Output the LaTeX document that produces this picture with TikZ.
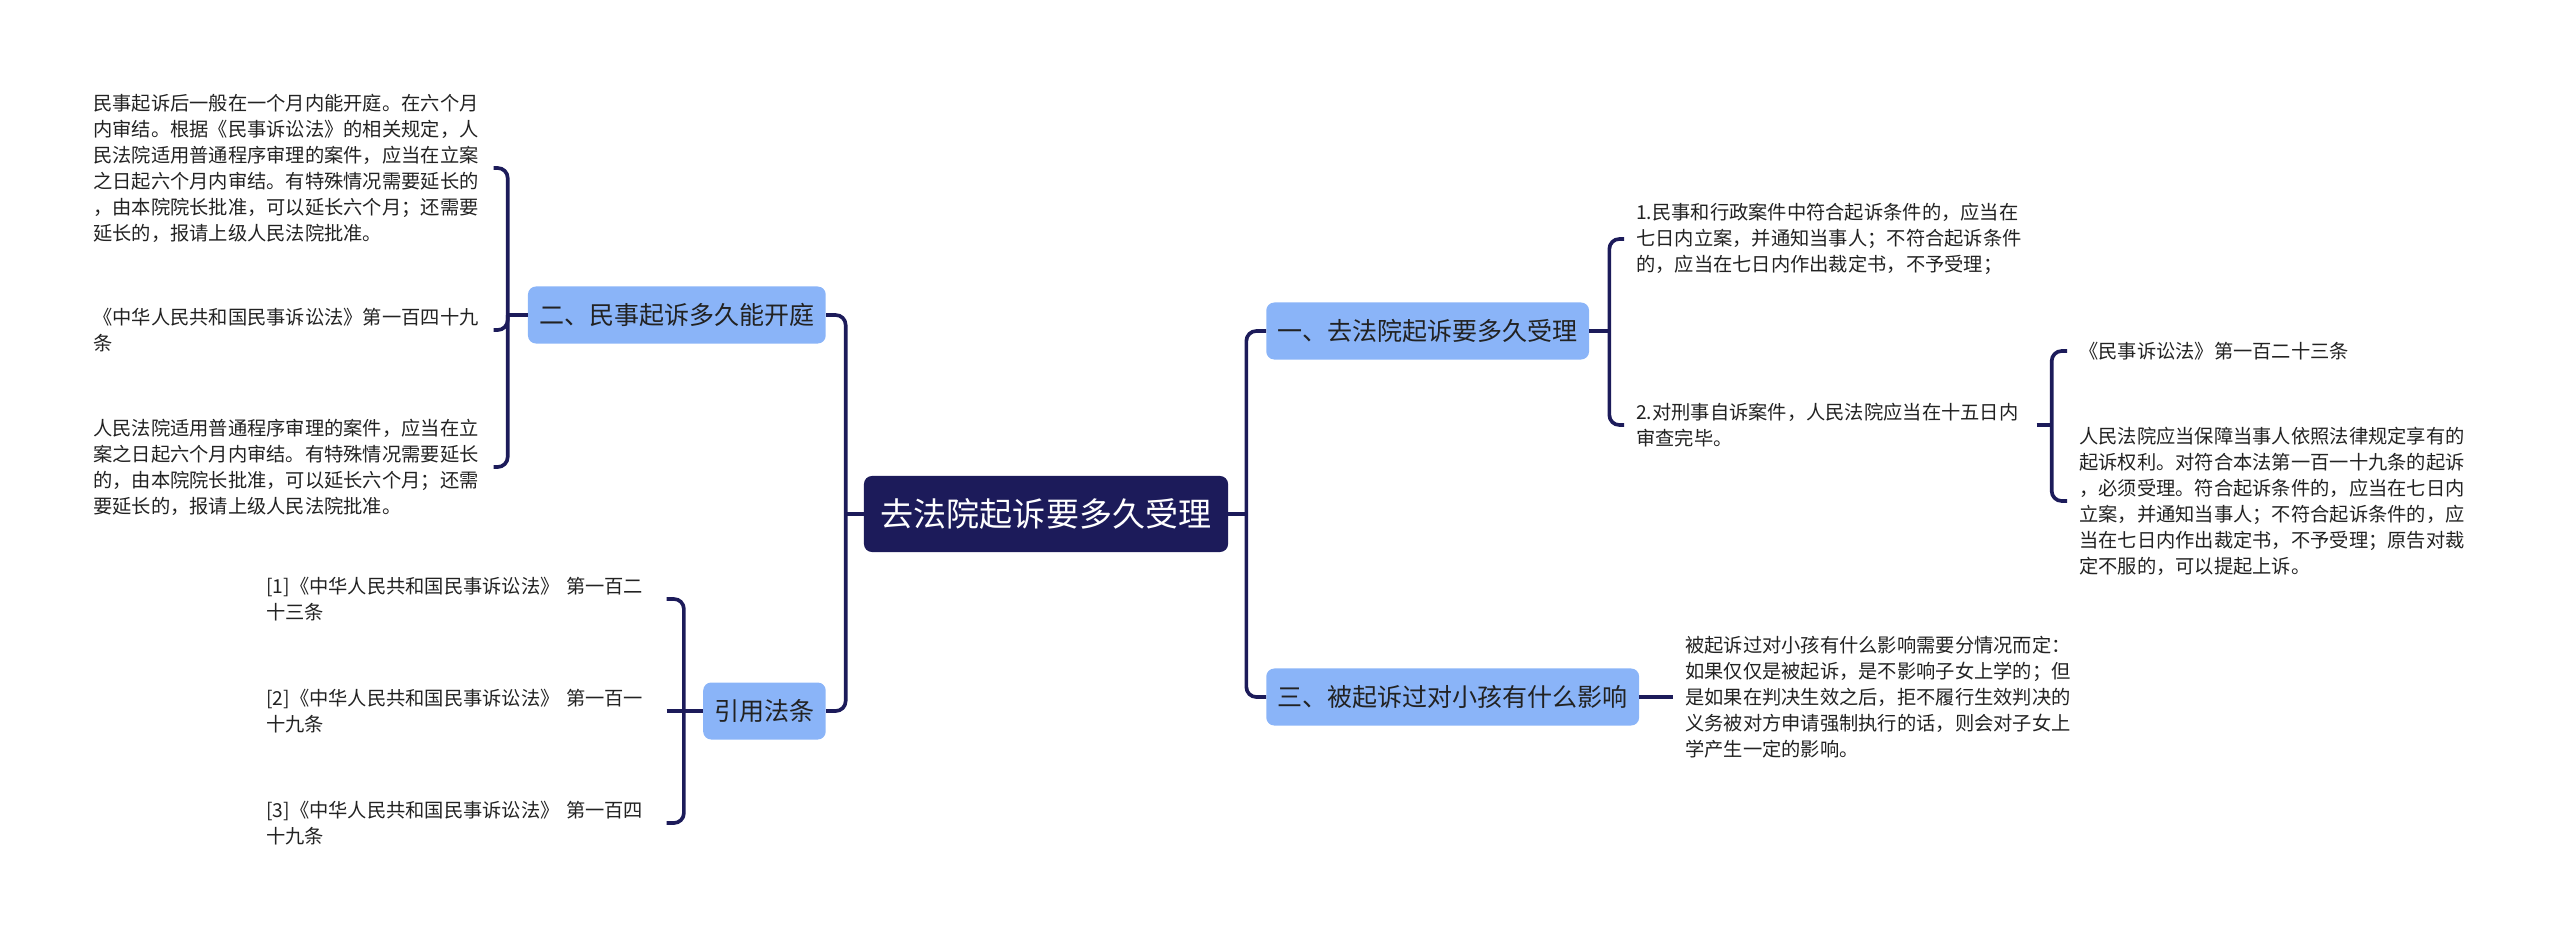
\documentclass[tikz,border=0pt]{standalone}
\usepackage{fontspec}
\setmainfont{Noto Sans CJK SC}
\usepackage{tikz}
\usetikzlibrary{positioning}
\definecolor{navy}{HTML}{1C1B5A}
\definecolor{sky}{HTML}{8AB4F8}
\definecolor{ink}{HTML}{222222}
\tikzset{rootbox/.style={fill=navy,text=white,rounded corners=0.2cm,minimum width=9.1cm,minimum height=1.9cm,font=\fontsize{23.5pt}{28pt}\selectfont},
  topic/.style={fill=sky,text=ink,rounded corners=0.2cm,minimum height=1.425cm,inner xsep=0.28cm,font=\fontsize{17.8pt}{21pt}\selectfont},
  leaf/.style={text=ink,anchor=west,align=left,text width=9.7cm,inner xsep=0.3cm,inner ysep=0pt,font=\fontsize{13.7pt}{18.5pt}\selectfont},
  link/.style={draw=navy,line width=2.6pt,rounded corners=0.25cm}}

\begin{document}
\begin{tikzpicture}[x=0.025cm,y=-0.025cm,line join=round]
\useasboundingbox (0,0) rectangle (2560,940);
% --- centre and the four topics
\node[rootbox] (root) at (1046,514) {去法院起诉要多久受理};
\node[topic,anchor=west] (b1) at (1266,331) {一、去法院起诉要多久受理};
\node[topic,anchor=east] (b2) at (826,315) {二、民事起诉多久能开庭};
\node[topic,anchor=west] (b3) at (1266,697) {三、被起诉过对小孩有什么影响};
\node[topic,anchor=east] (bref) at (826,711) {引用法条};
\path (root.west) ++(-18,0) coordinate (jl);
\path (root.east) ++(18,0) coordinate (jr);
\draw[link] (b2.east) -| (jl) |- (bref.east); \draw[link] (root.west) -- (jl);
\draw[link] (b1.west) -| (jr) |- (b3.west); \draw[link] (root.east) -- (jr);
% --- left: 二
\node[leaf] (t21) at (81,168) {民事起诉后一般在一个月内能开庭。在六个月\\内审结。根据《民事诉讼法》的相关规定，人\\民法院适用普通程序审理的案件，应当在立案\\之日起六个月内审结。有特殊情况需要延长的\\，由本院院长批准，可以延长六个月；还需要\\延长的，报请上级人民法院批准。};
\node[leaf] (t22) at (81,330) {《中华人民共和国民事诉讼法》第一百四十九\\条};
\node[leaf] (t23) at (81,467) {人民法院适用普通程序审理的案件，应当在立\\案之日起六个月内审结。有特殊情况需要延长\\的，由本院院长批准，可以延长六个月；还需\\要延长的，报请上级人民法院批准。};
\path (b2.west) ++(-20,0) coordinate (j2);
\draw[link] (t21.east) -| (j2) |- (t23.east); \draw[link] (b2.west) -- (j2);
\draw[link] (t22.east) -| (j2);
% --- left: 引用法条
\foreach \i/\y/\ta/\tb in {1/599/二/十三条,2/711/一/十九条,3/823/四/十九条}
  \node[leaf] (r\i) at (254,\y) {[\i]《中华人民共和国民事诉讼法》 第一百\ta\\\tb};
\path (bref.west) ++(-19,0) coordinate (jq);
\draw[link] (r1.east) -| (jq) |- (r3.east); \draw[link] (bref.west) -- (jq);
\draw[link] (r2.east) -- (jq);
% --- right: 一
\node[leaf] (a1) at (1624,239) {1.民事和行政案件中符合起诉条件的，应当在\\七日内立案，并通知当事人；不符合起诉条件\\的，应当在七日内作出裁定书，不予受理；};
\node[leaf] (a2) at (1624,425) {2.对刑事自诉案件，人民法院应当在十五日内\\审查完毕。};
\path (b1.east) ++(20,0) coordinate (j1);
\draw[link] (a1.west) -| (j1) |- (a2.west); \draw[link] (b1.east) -- (j1);
\node[leaf] (a21) at (2067,351) {《民事诉讼法》第一百二十三条};
\node[leaf] (a22) at (2067,501) {人民法院应当保障当事人依照法律规定享有的\\起诉权利。对符合本法第一百一十九条的起诉\\，必须受理。符合起诉条件的，应当在七日内\\立案，并通知当事人；不符合起诉条件的，应\\当在七日内作出裁定书，不予受理；原告对裁\\定不服的，可以提起上诉。};
\path (a2.east) ++(15,0) coordinate (j12);
\draw[link] (a21.west) -| (j12) |- (a22.west); \draw[link] (a2.east) -- (j12);
% --- right: 三
\node[leaf] (c1) at (1673,697) {被起诉过对小孩有什么影响需要分情况而定：\\如果仅仅是被起诉，是不影响子女上学的；但\\是如果在判决生效之后，拒不履行生效判决的\\义务被对方申请强制执行的话，则会对子女上\\学产生一定的影响。};
\draw[link] (b3.east) -- (c1.west);
\end{tikzpicture}
\end{document}
